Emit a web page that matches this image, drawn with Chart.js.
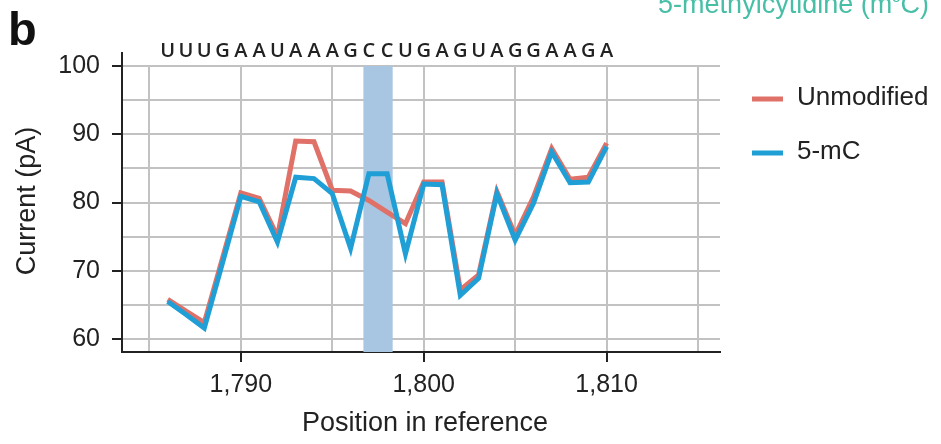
<!DOCTYPE html>
<html>
<head>
<meta charset="utf-8">
<script src="https://cdn.jsdelivr.net/npm/chart.js@4"></script>
<style>
  html, body { margin: 0; padding: 0; background: #fff; }
  #wrap { width: 941px; height: 444px; position: relative; }
</style>
</head>
<body>
<div id="wrap"><canvas id="c" width="941" height="444"></canvas></div>
<script>
// ---- data ----
const positions = [1786,1787,1788,1789,1790,1791,1792,1793,1794,1795,1796,1797,1798,1799,1800,1801,1802,1803,1804,1805,1806,1807,1808,1809,1810];
const sequence = ["U","U","U","G","A","A","U","A","A","A","G","C","C","U","G","A","G","U","A","G","G","A","A","G","A"];
const unmodified = [65.8,64.1,62.4,71.9,81.4,80.6,75.0,89.0,88.9,81.8,81.7,80.3,78.6,76.9,83.0,83.0,67.2,69.4,81.6,75.2,80.8,87.9,83.4,83.7,88.7];
const methylC = [65.5,63.6,61.6,71.2,80.9,80.1,74.2,83.7,83.5,81.3,73.3,84.2,84.2,72.5,82.7,82.6,66.4,68.9,81.3,74.5,79.9,87.4,82.9,83.0,88.2];
const xTickValues = [1785,1790,1795,1800,1805,1810,1815];
const yTickValues = [60,65,70,75,80,85,90,95,100];
const highlightRange = [1796.7, 1798.3];
const seriesNames = ["Unmodified", "5-mC"];
const panelLetter = "b";
const panelTitle = "5-methylcytidine (m";
const panelTitleSup = "5";
const panelTitleEnd = "C)";
const xTitle = "Position in reference";
const yTitle = "Current (pA)";

const RED = "#df7168";
const BLUE = "#1f9fd5";
const GRID = "#c2c2c2";
const AXIS = "#222222";
const FONT = "'Liberation Sans', Arial, sans-serif";

const toXY = (vals) => positions.map((p, i) => ({x: p, y: vals[i]}));

const decor = {
  id: 'decor',
  beforeDatasetsDraw(chart) {
    const {ctx, chartArea, scales} = chart;
    const x0 = scales.x.getPixelForValue(highlightRange[0]);
    const x1 = scales.x.getPixelForValue(highlightRange[1]);
    ctx.save();
    ctx.fillStyle = "#a8c5e2";
    const top = scales.y.getPixelForValue(100);
    ctx.fillRect(x0, top, x1 - x0, chartArea.bottom - top);
    ctx.restore();
  },
  afterDraw(chart) {
    const {ctx, chartArea, scales} = chart;
    ctx.save();
    // extended y axis line
    ctx.strokeStyle = AXIS;
    ctx.lineWidth = 2;
    ctx.beginPath();
    ctx.moveTo(chartArea.left, 52);
    ctx.lineTo(chartArea.left, chartArea.bottom + 1);
    ctx.stroke();

    // sequence letters
    ctx.fillStyle = "#222";
    ctx.font = "600 20px 'Open Sans', sans-serif";
    ctx.textAlign = "center";
    ctx.textBaseline = "alphabetic";
    sequence.forEach((s, i) => {
      ctx.fillText(s, scales.x.getPixelForValue(positions[i]), 57);
    });

    // panel letter
    ctx.font = "bold 47px " + FONT;
    ctx.textAlign = "left";
    ctx.fillStyle = "#111";
    ctx.fillText(panelLetter, 8, 45);

    // panel title (cut at top)
    ctx.fillStyle = "#47bfa6";
    ctx.font = "27px " + FONT;
    const wEnd = ctx.measureText(panelTitleEnd).width;
    const wMain = ctx.measureText(panelTitle).width;
    ctx.font = "15px " + FONT;
    const wSup = ctx.measureText(panelTitleSup).width;
    let xs = 929 - wEnd - wSup - wMain;
    const by = 13;
    ctx.font = "27px " + FONT;
    ctx.fillText(panelTitle, xs, by);
    ctx.font = "15px " + FONT;
    ctx.fillText(panelTitleSup, xs + wMain, by - 11);
    ctx.font = "27px " + FONT;
    ctx.fillText(panelTitleEnd, xs + wMain + wSup, by);

    // axis titles
    ctx.fillStyle = "#222";
    ctx.font = "27px " + FONT;
    ctx.textAlign = "center";
    ctx.textBaseline = "middle";
    ctx.fillText(xTitle, 425, 424);
    ctx.save();
    ctx.translate(28, 201);
    ctx.rotate(-Math.PI / 2);
    ctx.fillText(yTitle, 0, 0);
    ctx.restore();

    // legend
    const items = [[seriesNames[0], RED, 99], [seriesNames[1], BLUE, 153]];
    ctx.font = "26px " + FONT;
    ctx.textAlign = "left";
    ctx.textBaseline = "middle";
    items.forEach(([name, col, y]) => {
      ctx.strokeStyle = col;
      ctx.lineWidth = 5;
      ctx.beginPath();
      ctx.moveTo(752, y);
      ctx.lineTo(783, y);
      ctx.stroke();
      ctx.fillStyle = "#222";
      ctx.fillText(name, 797, y - 1);
    });
    ctx.restore();
  }
};

new Chart(document.getElementById('c'), {
  type: 'line',
  data: {
    datasets: [
      { label: seriesNames[0], data: toXY(unmodified), borderColor: RED, borderWidth: 5, pointRadius: 0, tension: 0, order: 2 },
      { label: seriesNames[1], data: toXY(methylC), borderColor: BLUE, borderWidth: 5, pointRadius: 0, tension: 0, order: 1 }
    ]
  },
  options: {
    responsive: false,
    animation: false,
    events: [],
    layout: { padding: { top: 66, right: 221, left: 0, bottom: 0 } },
    plugins: { legend: { display: false }, tooltip: { enabled: false } },
    scales: {
      x: {
        type: 'linear',
        min: 1783.5,
        max: 1816.2,
        afterBuildTicks: (s) => { s.ticks = xTickValues.map(v => ({value: v})); },
        afterFit: (s) => { s.height = 92; },
        ticks: {
          autoSkip: false,
          maxRotation: 0,
          padding: 8,
          color: "#222",
          font: { family: FONT, size: 25 },
          callback: (v) => (v % 10 === 0 ? v.toLocaleString('en-US') : '')
        },
        grid: {
          color: GRID,
          lineWidth: 2,
          tickLength: 10,
          tickWidth: 2,
          tickColor: (c) => (c.tick && c.tick.value % 10 === 0 ? AXIS : 'rgba(0,0,0,0)')
        },
        border: { display: true, color: AXIS, width: 2 },
        title: { display: false }
      },
      y: {
        type: 'linear',
        min: 58.1,
        max: 100,
        afterBuildTicks: (s) => { s.ticks = yTickValues.map(v => ({value: v})); },
        afterFit: (s) => { s.width = 122; },
        ticks: {
          autoSkip: false,
          padding: 12,
          color: "#222",
          font: { family: FONT, size: 25 },
          callback: (v) => (v % 10 === 0 ? String(v) : '')
        },
        grid: {
          color: GRID,
          lineWidth: 2,
          tickLength: 10,
          tickWidth: 2,
          tickColor: (c) => (c.tick && c.tick.value % 10 === 0 ? AXIS : 'rgba(0,0,0,0)')
        },
        border: { display: false },
        title: { display: false }
      }
    }
  },
  plugins: [decor]
});
</script>
</body>
</html>
